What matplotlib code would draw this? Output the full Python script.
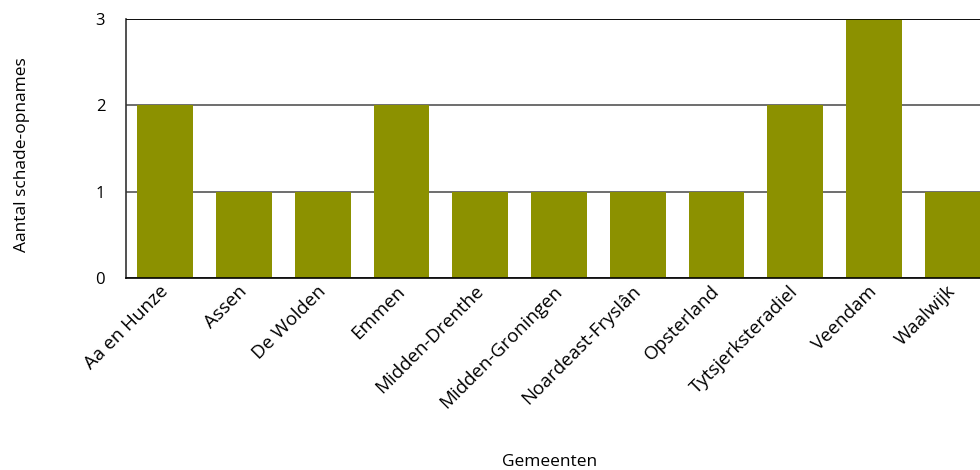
import matplotlib.pyplot as plt
from matplotlib.transforms import ScaledTranslation

plt.rcParams["font.family"] = ["Open Sans", "DejaVu Sans"]

gemeenten = [
    "Aa en Hunze", "Assen", "De Wolden", "Emmen", "Midden-Drenthe",
    "Midden-Groningen", "Noardeast-Fryslân", "Opsterland",
    "Tytsjerksteradiel", "Veendam", "Waalwijk",
]
opnames = [2, 1, 1, 2, 1, 1, 1, 1, 2, 3, 1]
y_ticks = [0, 1, 2, 3]

BAR_COLOR = "#8c9100"

fig = plt.figure(figsize=(9.8, 4.7), dpi=100)
ax = fig.add_axes([126 / 980, 1 - 278 / 470, 866 / 980, 259 / 470])

x = range(len(gemeenten))
ax.bar(x, opnames, width=0.71, color=BAR_COLOR, zorder=2)

ax.set_xlim(-0.5, len(gemeenten) - 0.5)
ax.set_ylim(0, 3)
ax.set_yticks(y_ticks)
ax.set_yticklabels([str(v) for v in y_ticks], fontsize=12)
ax.yaxis.grid(True, color="#555555", linewidth=1.2, zorder=1)
ax.set_axisbelow(True)
ax.tick_params(axis="y", length=0, pad=15)
ax.tick_params(axis="x", length=0, pad=3)

ax.set_xticks(list(x))
ax.set_xticklabels(gemeenten, rotation=45, ha="right", rotation_mode="anchor", fontsize=13.5)
# nudge the rotated labels a bit to the left, like the reference
shift = ScaledTranslation(-0.06, 0, fig.dpi_scale_trans)
for lbl in ax.get_xticklabels():
    lbl.set_transform(lbl.get_transform() + shift)

for side in ["top", "right"]:
    ax.spines[side].set_visible(False)
ax.axhline(3, color="black", linewidth=1.2, zorder=3)
ax.spines["left"].set_color("#333333")
ax.spines["bottom"].set_color("black")
ax.spines["left"].set_linewidth(1.2)
ax.spines["bottom"].set_linewidth(1.2)

fig.text(22 / 980, 1 - 155 / 470, "Aantal schade-opnames", fontsize=12.5,
         rotation=90, ha="center", va="center")
fig.text(550 / 980, 1 - 462 / 470, "Gemeenten", fontsize=12.5, ha="center", va="center")

fig.savefig("out.png", dpi=100)
